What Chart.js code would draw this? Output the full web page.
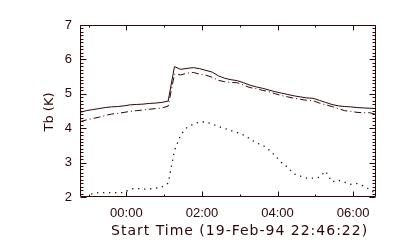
<!DOCTYPE html>
<html>
<head>
<meta charset="utf-8">
<script src="https://cdn.jsdelivr.net/npm/chart.js@4/dist/chart.umd.min.js"></script>
<style>
html,body{margin:0;padding:0;background:#ffffff;}
canvas{display:block;}
</style>
</head>
<body>
<canvas id="c" width="400" height="250"></canvas>
<script>
// minutes after start time 19-Feb-94 22:46:22
const minutes = [0,10,20,30,40,50,60,70,80,90,100,110,120,130,140,150,160,170,180,190,200,210,220,230,240,250,260,270,280,290,300,310,320,330,340,350,360,370,380,390,400,410,420,430,440,450,460,470];
const startOffsetHours = -(1 + 13/60 + 38/3600); // 22:46:22 relative to 00:00
const solidTb = [4.46,4.51,4.54,4.57,4.60,4.62,4.63,4.65,4.68,4.69,4.70,4.72,4.73,4.75,4.79,
  5.79,5.71,5.74,5.76,5.73,5.68,5.63,5.52,5.45,5.41,5.38,5.32,5.25,5.20,5.16,5.11,5.06,5.02,4.98,4.94,
  4.91,4.88,4.87,4.81,4.75,4.69,4.65,4.63,4.62,4.60,4.59,4.58,4.57];
const dashedTb = [4.19,4.24,4.28,4.32,4.37,4.41,4.43,4.46,4.49,4.51,4.53,4.55,4.57,4.59,4.64,
  5.57,5.55,5.60,5.62,5.57,5.54,5.48,5.39,5.35,5.33,5.32,5.25,5.18,5.15,5.10,5.06,5.00,4.95,4.91,4.87,
  4.84,4.81,4.80,4.73,4.68,4.63,4.57,4.51,4.49,4.46,4.45,4.45,4.40];
const dottedTb = [1.98,2.00,2.10,2.13,2.13,2.13,2.13,2.13,2.23,2.25,2.23,2.23,2.26,2.29,2.40,
  3.35,3.81,4.02,4.12,4.18,4.18,4.12,4.05,3.99,3.93,3.87,3.80,3.69,3.57,3.51,3.37,3.20,3.00,2.86,2.67,
  2.61,2.55,2.55,2.57,2.75,2.44,2.49,2.43,2.37,2.39,2.32,2.22,2.09];
const xLabelHours = [0,2,4,6];
const xMinorHours = [-1,1,3,5];
const yTicks = [2,3,4,5,6,7];
const xTitle = 'Start Time (19-Feb-94 22:46:22)';
const yTitle = 'Tb (K)';

const INK = '#2d0606';
const toPts = vals => vals.map((v,i) => ({x: startOffsetHours + minutes[i]/60, y: v}));

const boxPlugin = {
  id: 'idlbox',
  afterDraw(chart) {
    const ctx = chart.ctx, a = chart.chartArea;
    const xs = chart.scales.x, ys = chart.scales.y;
    const L = Math.round(a.left)+0.5, R = Math.round(a.right)-0.5, T = Math.round(a.top)+0.5, B = Math.round(a.bottom)-0.5;
    ctx.save();
    ctx.strokeStyle = INK; ctx.lineWidth = 1;
    ctx.beginPath();
    ctx.rect(L, T, R-L, B-T);
    // x ticks
    const xt = (h, len) => {
      const px = Math.round(xs.getPixelForValue(h)) + 0.5;
      ctx.moveTo(px, B); ctx.lineTo(px, B-len);
      ctx.moveTo(px, T); ctx.lineTo(px, T+len);
    };
    xLabelHours.forEach(h => xt(h, 5));
    xMinorHours.forEach(h => xt(h, 2));
    // y ticks
    for (let k = 0; k <= 50; k++) {
      const v = 2 + k/10;
      const py = Math.round(ys.getPixelForValue(v)) + 0.5;
      const len = (k % 10 === 0) ? 6 : 3;
      ctx.moveTo(L, py); ctx.lineTo(L+len, py);
      ctx.moveTo(R, py); ctx.lineTo(R-len, py);
    }
    ctx.stroke();
    // titles
    ctx.fillStyle = INK;
    ctx.font = '14px "DejaVu Sans"';
    try { ctx.letterSpacing = '1px'; } catch(e) {}
    ctx.textAlign = 'left'; ctx.textBaseline = 'middle';
    ctx.fillText(xTitle, 111, 231);
    try { ctx.letterSpacing = '0px'; } catch(e) {}
    ctx.font = '13px "DejaVu Sans"';
    ctx.translate(50, 112);
    ctx.rotate(-Math.PI/2);
    ctx.textAlign = 'center';
    ctx.fillText(yTitle, 0, 0);
    ctx.restore();
  }
};

new Chart(document.getElementById('c'), {
  type: 'line',
  data: {
    datasets: [
      {data: toPts(solidTb), borderColor: INK, borderWidth: 1, pointRadius: 0, tension: 0},
      {data: toPts(dashedTb), borderColor: INK, borderWidth: 1, pointRadius: 0, tension: 0, borderDash: [7,3,1,3]},
      {data: toPts(dottedTb), borderColor: INK, borderWidth: 1.3, pointRadius: 0, tension: 0, borderDash: [1.3,4.7]}
    ]
  },
  options: {
    responsive: false,
    animation: false,
    events: [],
    layout: {padding: {top: 25, right: 24, left: 0, bottom: 0}},
    plugins: {legend: {display: false}, tooltip: {enabled: false}},
    scales: {
      x: {
        type: 'linear',
        min: startOffsetHours,
        max: startOffsetHours + 470/60,
        afterBuildTicks: s => { s.ticks = xLabelHours.map(v => ({value: v})); },
        afterFit: s => { s.height = 53; },
        grid: {display: false, drawTicks: false},
        border: {display: false},
        ticks: {
          color: INK, padding: 9, maxRotation: 0, autoSkip: false,
          font: {family: '"Liberation Sans"', size: 13},
          callback: v => String(v).padStart(2,'0') + ':00'
        }
      },
      y: {
        min: 2, max: 7,
        afterBuildTicks: s => { s.ticks = yTicks.map(v => ({value: v})); },
        afterFit: s => { s.width = 80; },
        grid: {display: false, drawTicks: false},
        border: {display: false},
        ticks: {
          color: INK, padding: 8,
          font: {family: '"Liberation Sans"', size: 13},
          callback: v => String(v)
        }
      }
    }
  },
  plugins: [boxPlugin]
});
</script>
</body>
</html>
